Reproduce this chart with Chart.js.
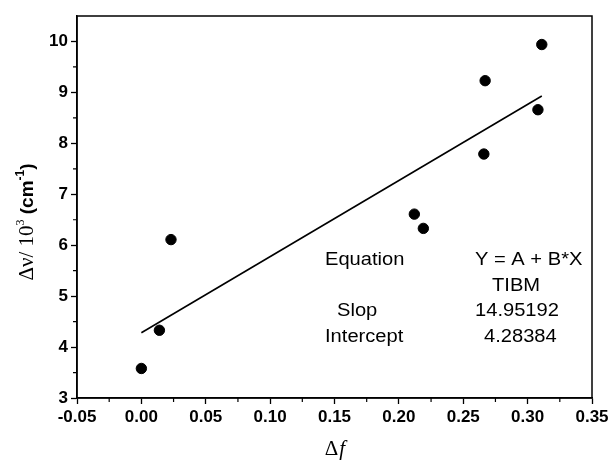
<!DOCTYPE html>
<html><head><meta charset="utf-8">
<script src="https://cdn.jsdelivr.net/npm/chart.js@4"></script>
<style>html,body{margin:0;padding:0;background:#fff;}#wrap{width:614px;height:464px;position:relative;}</style>
</head><body><div id="wrap"><canvas id="c" width="614" height="464"></canvas></div>
<script>
// ---- data ----
const deltaF  = [0.000, 0.014, 0.023, 0.212, 0.219, 0.266, 0.267, 0.308, 0.311];
const deltaNu = [3.58, 4.33, 6.11, 6.61, 6.33, 7.79, 9.23, 8.66, 9.94];
const fitX = [0.000, 0.311];
const fitY = [4.28, 8.93];
const xTicks = [-0.05, 0.00, 0.05, 0.10, 0.15, 0.20, 0.25, 0.30, 0.35];
const xMinorTicks = [-0.025, 0.025, 0.075, 0.125, 0.175, 0.225, 0.275, 0.325];
const yTicks = [3, 4, 5, 6, 7, 8, 9, 10];
const yMinorTicks = [3.5, 4.5, 5.5, 6.5, 7.5, 8.5, 9.5];
const eqLabels = ["Equation", "", "Slop", "Intercept"];
const eqValues = ["Y = A + B*X", "TIBM", "14.95192", "4.28384"];

const points = deltaF.map((x, i) => ({x, y: deltaNu[i]}));
const fitLine = fitX.map((x, i) => ({x, y: fitY[i]}));

const boxPlugin = {
  id: 'box',
  afterDatasetsDraw(chart) {
    const ctx = chart.ctx, a = chart.chartArea;
    const xs = chart.scales.x, ys = chart.scales.y;
    ctx.save();
    ctx.strokeStyle = '#000';
    ctx.lineWidth = 1.5;
    ctx.strokeRect(a.left, a.top, a.right - a.left, a.bottom - a.top);
    ctx.lineWidth = 1.2;
    ctx.beginPath();
    xMinorTicks.forEach(v => {
      const p = xs.getPixelForValue(v);
      ctx.moveTo(p, a.bottom); ctx.lineTo(p, a.bottom + 4);
    });
    yMinorTicks.forEach(v => {
      const p = ys.getPixelForValue(v);
      ctx.moveTo(a.left, p); ctx.lineTo(a.left - 4, p);
    });
    ctx.stroke();

    // equation text block
    ctx.fillStyle = '#000';
    ctx.font = '17.5px "Liberation Sans", Arial, sans-serif';
    ctx.textBaseline = 'alphabetic';
    const rowsY = [265, 291, 316, 342];
    const leftX = [325, 0, 337, 325];
    const rightX = [475, 492, 475, 484];
    const drawStretched = (t, x, y) => {
      ctx.save(); ctx.translate(x, y); ctx.scale(1.15, 1); ctx.fillText(t, 0, 0); ctx.restore();
    };
    for (let i = 0; i < eqLabels.length; i++) {
      if (eqLabels[i]) drawStretched(eqLabels[i], leftX[i], rowsY[i]);
      drawStretched(eqValues[i], rightX[i], rowsY[i]);
    }

    // x axis title
    ctx.textAlign = 'left';
    const serif = '"Liberation Serif", "Times New Roman", serif';
    ctx.font = '21px ' + serif;
    const cx = (a.left + a.right) / 2;
    const w1 = ctx.measureText('Δ').width;
    ctx.font = 'italic 21px ' + serif;
    const w2 = ctx.measureText('f').width;
    let sx = cx - (w1 + w2) / 2;
    ctx.font = '21px ' + serif;
    ctx.fillText('Δ', sx, 455);
    ctx.font = 'italic 21px ' + serif;
    ctx.fillText('f', sx + w1 + 1, 455);

    // y axis title (rotated)
    const parts = [
      {t: 'Δν/ 10', f: '21px ' + serif, dy: 0},
      {t: '3', f: '12px ' + serif, dy: -9},
      {t: ' (cm', f: 'bold 19px "Liberation Sans", Arial, sans-serif', dy: 0},
      {t: '-1', f: 'bold 12px "Liberation Sans", Arial, sans-serif', dy: -9},
      {t: ')', f: 'bold 19px "Liberation Sans", Arial, sans-serif', dy: 0}
    ];
    let total = 0;
    parts.forEach(p => { ctx.font = p.f; p.w = ctx.measureText(p.t).width; total += p.w; });
    ctx.save();
    ctx.translate(33, 222);
    ctx.rotate(-Math.PI / 2);
    let px = -total / 2;
    parts.forEach(p => { ctx.font = p.f; ctx.fillText(p.t, px, p.dy); px += p.w; });
    ctx.restore();
    ctx.restore();
  }
};

const tickFont = {family: '"Liberation Sans", Arial, sans-serif', size: 17, weight: 'bold'};

new Chart(document.getElementById('c'), {
  type: 'scatter',
  data: {
    datasets: [
      {data: points, backgroundColor: '#000', borderColor: '#000', pointRadius: 5.2, pointHoverRadius: 5.2},
      {type: 'line', data: fitLine, showLine: true, borderColor: '#000', borderWidth: 1.6, pointRadius: 0, fill: false, tension: 0}
    ]
  },
  options: {
    responsive: false,
    animation: false,
    events: [],
    layout: {padding: {left: 0, right: 22, top: 16, bottom: 0}},
    plugins: {legend: {display: false}, tooltip: {enabled: false}},
    scales: {
      x: {
        type: 'linear', position: 'bottom', min: -0.05, max: 0.35,
        afterBuildTicks: s => { s.ticks = xTicks.map(v => ({value: v})); },
        afterFit: s => { s.height = 66; },
        grid: {drawOnChartArea: false, drawTicks: true, tickLength: 6, tickColor: '#000', tickWidth: 1.3},
        border: {display: true, color: '#000', width: 1.5},
        ticks: {color: '#000', font: tickFont, padding: 3, maxRotation: 0, autoSkip: false,
                callback: v => v.toFixed(2)}
      },
      y: {
        type: 'linear', position: 'left', min: 3, max: 10.5,
        afterBuildTicks: s => { s.ticks = yTicks.map(v => ({value: v})); },
        afterFit: s => { s.width = 77; },
        grid: {drawOnChartArea: false, drawTicks: true, tickLength: 6, tickColor: '#000', tickWidth: 1.3},
        border: {display: true, color: '#000', width: 1.5},
        ticks: {color: '#000', font: tickFont, padding: 3, autoSkip: false,
                callback: v => String(v)}
      }
    }
  },
  plugins: [boxPlugin]
});
</script>
</body></html>
